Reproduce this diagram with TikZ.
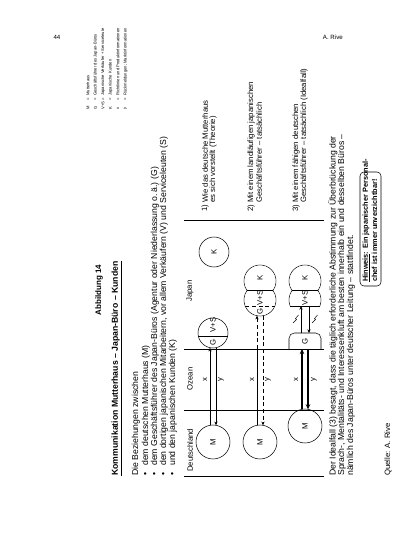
\documentclass[tikz,border=0pt]{standalone}
\usepackage{fontspec}
\setmainfont{Liberation Sans}
\usetikzlibrary{arrows.meta}
\tikzset{
  txt/.style={rotate=90, anchor=west, inner sep=0pt, font=\fontsize{5.8}{6.75}\selectfont},
  btxt/.style={txt, font=\fontsize{6.5}{6.75}\selectfont},
  ctxt/.style={rotate=90, anchor=center, inner sep=0pt, font=\fontsize{5.8}{6.75}\selectfont},
  legtxt/.style={rotate=90, anchor=west, inner sep=0pt, font=\fontsize{3.1}{3.6}\selectfont},
  head/.style={anchor=center, inner sep=0pt, font=\fontsize{4.6}{5.3}\selectfont},
  ring/.style={draw, circle, line width=0.4pt, inner sep=0pt, minimum size=25.5pt, rotate=90, font=\fontsize{5.8}{6.75}\selectfont},
  ringk/.style={ring, minimum size=22.5pt},
  bnd/.style={line width=0.4pt},
  arr/.style={-{Stealth[length=2.8pt,width=2.4pt]}, line width=0.35pt},
  darr/.style={arr, densely dashed},
  tarr/.style={-{Stealth[length=3.8pt,width=3.4pt]}, line width=1.1pt},
  shp/.style={line width=0.4pt},
}
\begin{document}
\begin{tikzpicture}[x=0.75pt,y=-0.75pt]
\useasboundingbox (0,0) rectangle (400,556);
\fill[white] (0,0) rectangle (400,556);

% header
\node[head] (pg) at (57,37) {44};
\node[head, anchor=east] (au) at (343,37) {A. Rive};

% titles
\node[ctxt, font=\fontsize{6}{7}\bfseries] (abb) at (99,290) {Abbildung 14};
\node[txt, font=\fontsize{6.5}{7.5}\bfseries] (tit) at (117,476) {\underline{Kommunikation Mutterhaus -- Japan-Büro -- Kunden}};

% legend
\foreach \i/\s/\t in {0/M/{Mutterhaus}, 1/G/{Geschäftsführer des Japan-Büros}, 2/V+S/{Japanische Verkäufer + Serviceleute}, 3/K/{Japanische Kunden}, 4/x/{Richtlinien und Produktinformationen}, 5/y/{Rückmeldungen; Marktinformationen}}{
  \node[legtxt] (ls\i) at (88+7.5*\i,110) {\s};
  \node[legtxt] (le\i) at (88+7.5*\i,101) {=};
  \node[legtxt] (lt\i) at (88+7.5*\i,96) {\t};
}

% intro
\node[btxt] (intro) at (136,476) {Die Beziehungen zwischen};
\foreach \i/\t in {0/{dem deutschen Mutterhaus (M)}, 1/{dem Geschäftsführer des Japan-Büros (Agentur oder Niederlassung o.\,ä.) (G)}, 2/{den dortigen japanischen Mitarbeitern, vor allem Verkäufern (V) und Serviceleuten (S)}, 3/{und den japanischen Kunden (K)}}{
  \node[btxt] (bu\i) at (146+9*\i,476) {\textbullet};
  \node[btxt] (bt\i) at (146+9*\i,466) {\t};
}

% diagram frame
\coordinate (lt) at (184,476); \coordinate (lb) at (324,476);
\coordinate (ot) at (184,410); \coordinate (ob) at (324,410);
\coordinate (jt) at (184,349); \coordinate (jb) at (324,349);
\coordinate (rt) at (184,220); \coordinate (rb) at (324,220);
\draw[bnd] (lt) -- (lb);
\draw[bnd] (ot) -- (ob);
\draw[bnd] (jt) -- (jb);
\draw[bnd] (rt) -- (rb);
\node[txt] (cd) at (190,472) {Deutschland};
\node[ctxt] (co) at (190,379) {Ozean};
\node[ctxt] (cj) at (190,291) {Japan};

% ---- row 1
\node[ring] (m1) at (213,442) {M};
\node[ringk] (gv1) at (213,333) {};
\draw[shp] (198.3,336) -- (227.7,336);
\node[ctxt] (g1) at (213,342) {G};
\node[ctxt] (v1) at (213,325) {V+S};
\node[ringk] (k1) at (214,252) {K};
\coordinate (a1s) at (210,425.3); \coordinate (a1e) at (210,347.7);
\coordinate (b1s) at (216,347.7); \coordinate (b1e) at (216,425.3);
\draw[arr] (a1s) -- (a1e);
\draw[arr] (b1s) -- (b1e);
\node[ctxt] (x1) at (205,380) {x};
\node[ctxt] (y1) at (221,380) {y};

% ---- row 2
\node[ring] (m2) at (260,442) {M};
\coordinate (A2) at (260,300); \coordinate (B2) at (260,281);
\draw[shp] (A2) circle[radius=16];
\draw[shp] (B2) circle[radius=16];
\fill[white] (A2) circle[radius=15.4];
\fill[white] (B2) circle[radius=15.4];
\draw[shp] (247.13,290.5) -- (272.87,290.5);
\draw[shp, densely dashed] (245.17,306) -- (274.83,306);
\node[ctxt] (k2) at (260,278) {K};
\node[ctxt] (v2) at (260,298) {V+S};
\node[ctxt] (g2) at (260,311) {G};
\coordinate (a2s) at (257,425.3); \coordinate (a2m) at (257,349); \coordinate (a2e) at (257,315.7);
\coordinate (b2s) at (263,315.7); \coordinate (b2e) at (263,425.3);
\draw[shp] (a2s) -- (a2m);
\draw[darr] (a2m) -- (a2e);
\draw[darr] (b2s) -- (b2e);
\node[ctxt] (x2) at (252,380) {x};
\node[ctxt] (y2) at (268,380) {y};

% ---- row 3
\node[ring] (m3) at (305,426) {M};
\draw[shp, rounded corners=4] (289,349) -- (289,333) -- (321,333) -- (321,349);
\node[ctxt] (g3) at (305,341) {G};
\begin{scope}
  \clip (275,250) rectangle (335,306);
  \coordinate (A3) at (305,300); \coordinate (B3) at (305,281);
  \draw[shp] (A3) circle[radius=16];
  \draw[shp] (B3) circle[radius=16];
  \fill[white] (A3) circle[radius=15.4];
  \fill[white] (B3) circle[radius=15.4];
\end{scope}
\draw[shp] (290.17,306) -- (319.83,306);
\draw[shp] (292.13,290.5) -- (317.87,290.5);
\node[ctxt] (k3) at (305,278) {K};
\node[ctxt] (v3) at (305,298) {V+S};
\coordinate (a3s) at (302,409.3); \coordinate (a3e) at (302,349);
\coordinate (b3s) at (308,349); \coordinate (b3e) at (308,409.3);
\draw[tarr] (a3s) -- (a3e);
\draw[tarr] (b3s) -- (b3e);
\node[ctxt] (x3) at (296,380) {x};
\node[ctxt] (y3) at (314,380) {y};
\coordinate (c3s) at (301,333); \coordinate (c3e) at (301,306);
\coordinate (d3s) at (309,306); \coordinate (d3e) at (309,333);
\draw[arr] (c3s) -- (c3e);
\draw[arr] (d3s) -- (d3e);
\draw[line width=0.35pt] (293,323) -- (296.5,319.5) -- (295.5,318.5) -- (298.5,315);
\draw[line width=0.35pt] (312,323) -- (315.5,319.5) -- (314.5,318.5) -- (317.5,315);

% case labels
\node[txt] (n1) at (205,212) {1)};
\node[txt] (t1a) at (205,203) {Wie das deutsche Mutterhaus};
\node[txt] (t1b) at (213,203) {es sich vorstellt (Theorie)};
\node[txt] (n2) at (251,212) {2)};
\node[txt] (t2a) at (251,203) {Mit einem landläufigen japanischen};
\node[txt] (t2b) at (259,203) {Geschäftsführer -- tatsächlich};
\node[txt] (n3) at (296,212) {3)};
\node[txt] (t3a) at (296,203) {Mit einem fähigen deutschen};
\node[txt] (t3b) at (304,203) {Geschäftsführer -- tatsächlich (Idealfall)};

% paragraph
\node[btxt] (p1) at (333,476) {Der Idealfall (3) besagt, dass die täglich erforderliche Abstimmung zur Überbrückung der};
\node[btxt] (p2) at (342,476) {Sprach-, Mentalitäts- und Interessenkluft am besten innerhalb ein und desselben Büros --};
\node[btxt] (p3) at (351,476) {nämlich des Japan-Büros unter deutscher Leitung -- stattfindet.};

% note box
\draw[line width=0.4pt, rounded corners=3] (360,286) rectangle (381,172);
\node[txt, font=\fontsize{5.5}{6.75}\bfseries] (h1) at (366.5,282) {\underline{Hinweis}: Ein japanischer Personal-};
\node[txt, font=\fontsize{5.5}{6.75}\bfseries] (h2) at (374.5,282) {chef ist immer unverzichtbar!};

% source
\node[txt] (src) at (388,476) {Quelle: A. Rive};
\end{tikzpicture}
\end{document}
